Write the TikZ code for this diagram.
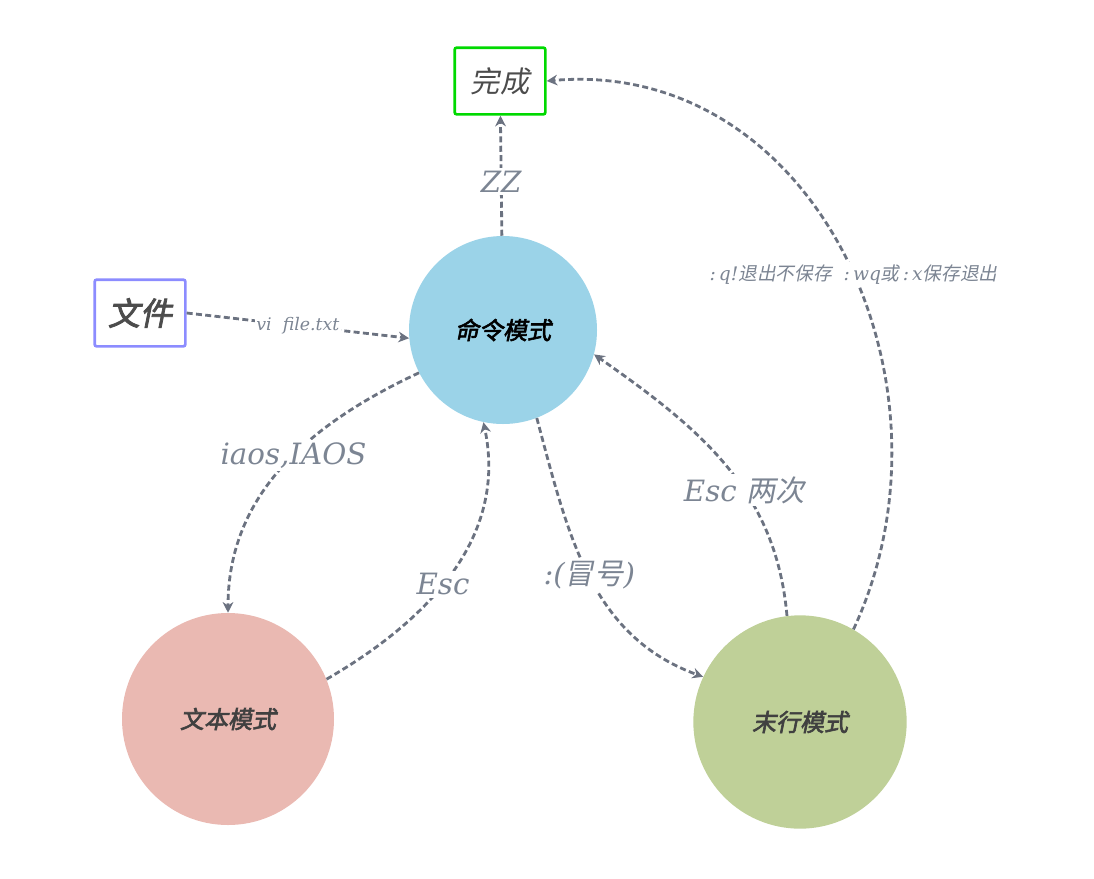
\documentclass[tikz,border=0pt]{standalone}
\usepackage{fontspec}
\setmainfont{DejaVu Serif}
\newfontfamily\cjk[FakeSlant=0.2]{Noto Sans CJK SC}
\newfontfamily\cjkb[FakeSlant=0.2,FakeBold=2.5]{Noto Sans CJK SC}
\usetikzlibrary{arrows.meta}
\definecolor{linegray}{HTML}{6B7280}
\definecolor{labgray}{HTML}{7C8593}
\definecolor{cmdblue}{HTML}{9BD3E8}
\definecolor{txtred}{HTML}{EAB9B2}
\definecolor{lastgreen}{HTML}{BFD098}
\tikzset{
  mode/.style={circle,inner sep=0pt,text=black!75},
  box/.style={draw,line width=2pt,rounded corners=1.5pt,minimum width=68pt,minimum height=50pt,text=black!70},
  flow/.style={draw=linegray,line width=2.1pt,dash pattern=on 4.5pt off 2.5pt,-{Stealth[length=8pt,width=8pt]}},
  lab/.style={fill=white,inner sep=2pt,text=labgray,font=\itshape\fontsize{22}{24}\selectfont},
}
\begin{document}
\begin{tikzpicture}[x=0.75pt,y=-0.75pt]
  \useasboundingbox (0,0) rectangle (1094,878);
  % states
  \node[mode,fill=cmdblue,minimum size=141pt,text=black] (cmd) at (503,330) {\cjkb\fontsize{18}{20}\selectfont 命令模式};
  \node[mode,fill=txtred,minimum size=159pt] (txt) at (228,719) {\cjkb\fontsize{18}{20}\selectfont 文本模式};
  \node[mode,fill=lastgreen,minimum size=160pt] (last) at (800,722) {\cjkb\fontsize{18}{20}\selectfont 末行模式};
  \node[box,draw=green!85!black] (done) at (500,81) {\cjk\fontsize{22}{24}\selectfont 完成};
  \node[box,draw=blue!45!white] (file) at (140,313) {\cjkb\fontsize{24}{26}\selectfont 文件};
  % transitions
  \draw[flow] (cmd) -- node[lab,pos=0.45] {ZZ} (done);
  \draw[flow] (file.east) -- node[lab,font=\itshape\fontsize{13}{15}\selectfont,inner sep=1pt] {vi\ \ file.txt} (cmd.185);
  \draw[flow] (cmd.207) to[out=205,in=90] node[lab,pos=0.45] {iaos,IAOS} (txt.north);
  \draw[flow] (txt.22) to[out=30,in=-78] node[lab,pos=0.45] {Esc} (cmd.258);
  \draw[flow] (cmd.291) to[out=-75,in=160] node[lab,pos=0.5] {:({\cjk 冒号})} (last.155);
  \draw[flow] (last.97) to[out=95,in=-35] node[lab,pos=0.4] {Esc {\cjk 两次}} (cmd.-15);
  \draw[flow] (last.60) to[out=65,in=5,looseness=1.1] node[lab,pos=0.47,font=\itshape\fontsize{14}{16}\selectfont] {:\,q!{\cjk 退出不保存}\ \ :\,wq{\cjk 或}\,:\,x{\cjk 保存退出}} (done.east);
\end{tikzpicture}
\end{document}
